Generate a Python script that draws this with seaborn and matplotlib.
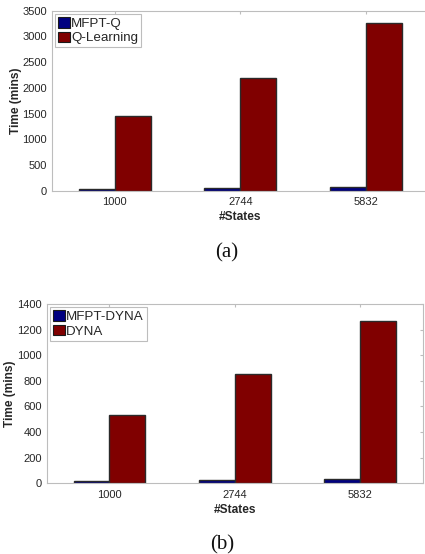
import matplotlib
matplotlib.use("Agg")
import matplotlib.pyplot as plt
import seaborn as sns
import pandas as pd
import numpy as np

states = ["1000", "2744", "5832"]
mfpt_q = [32, 46, 65]
q_learning = [1450, 2185, 3265]
mfpt_dyna = [18, 26, 34]
dyna = [533, 852, 1265]

labels_a = ["MFPT-Q", "Q-Learning"]
labels_b = ["MFPT-DYNA", "DYNA"]
yticks_a = [0, 500, 1000, 1500, 2000, 2500, 3000, 3500]
yticks_b = [0, 200, 400, 600, 800, 1000, 1200, 1400]

colors = ["#000080", "#800000"]

sns.set_theme(style="white")
plt.rcParams["font.family"] = ["Liberation Sans", "DejaVu Sans"]

W, H = 425, 554
fig = plt.figure(figsize=(W / 100, H / 100), dpi=100)

def px_axes(l, t, r, b):
    return fig.add_axes([l / W, 1 - b / H, (r - l) / W, (b - t) / H])

spine_c = "#bdbdbd"
tick_c = "#262626"

def draw(ax, s1, s2, names, yticks):
    df = pd.DataFrame({
        "States": states * 2,
        "Time": list(s1) + list(s2),
        "Method": [names[0]] * 3 + [names[1]] * 3,
    })
    sns.barplot(data=df, x="States", y="Time", hue="Method", palette=colors,
                width=0.572, gap=0, edgecolor="#2a2a2a", linewidth=1.0,
                saturation=1, ax=ax, legend=False, errorbar=None)
    ax.set_xlim(-0.5, 2.5)
    ax.set_ylim(yticks[0], yticks[-1])
    ax.set_yticks(yticks)
    ax.set_yticklabels([str(v) for v in yticks])
    for sp in ax.spines.values():
        sp.set_visible(True)
        sp.set_color(spine_c)
        sp.set_linewidth(0.8)
    ax.tick_params(axis="both", direction="in", length=2.4, width=0.8,
                   colors=spine_c, labelcolor=tick_c, labelsize=8,
                   top=True, right=True)
    ax.tick_params(axis="x", pad=4.5)
    ax.tick_params(axis="y", pad=3.5)
    ax.set_xlabel("#States", fontsize=8.6, fontweight="bold", color=tick_c, labelpad=3)
    ax.set_ylabel("Time (mins)", fontsize=8.6, fontweight="bold", color=tick_c, labelpad=0.5)
    handles = [matplotlib.patches.Patch(facecolor=c, edgecolor="#1a1a1a", linewidth=0.8)
               for c in colors]
    leg = ax.legend(handles, names, loc="upper left", fontsize=9.6, frameon=True,
                    fancybox=False, edgecolor=spine_c, framealpha=1,
                    handlelength=0.9, handleheight=0.85, handletextpad=0.1,
                    borderpad=0.22, labelspacing=0.12, borderaxespad=0.25)
    leg.get_frame().set_linewidth(0.8)
    return ax

ax1 = px_axes(51.7, 10.7, 429, 190.7)
draw(ax1, mfpt_q, q_learning, labels_a, yticks_a)
ax2 = px_axes(46.7, 304, 423, 483.3)
draw(ax2, mfpt_dyna, dyna, labels_b, yticks_b)

fig.text(227 / W, 1 - 253 / H, "(a)", family=["Liberation Serif"], fontsize=15,
         ha="center", va="center", color="#111111")
fig.text(222 / W, 1 - 545 / H, "(b)", family=["Liberation Serif"], fontsize=15,
         ha="center", va="center", color="#111111")

fig.savefig("out.png", dpi=100)
